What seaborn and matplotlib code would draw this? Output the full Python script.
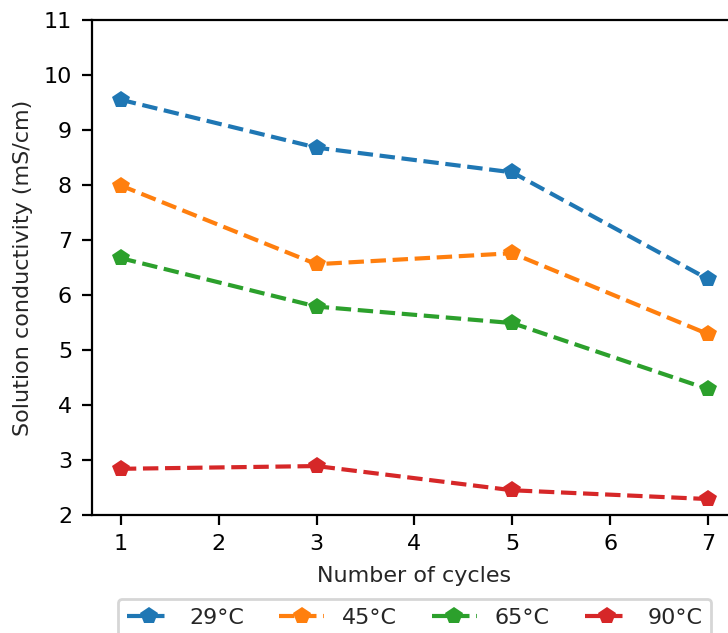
import matplotlib
matplotlib.use("Agg")
import matplotlib.pyplot as plt
import seaborn as sns
import pandas as pd

cycles = [1, 3, 5, 7]
temps = ["29°C", "45°C", "65°C", "90°C"]
cond_29 = [9.55, 8.68, 8.23, 6.29]
cond_45 = [7.99, 6.56, 6.76, 5.29]
cond_65 = [6.67, 5.79, 5.49, 4.29]
cond_90 = [2.84, 2.89, 2.45, 2.29]

rows = []
for t, vals in zip(temps, [cond_29, cond_45, cond_65, cond_90]):
    for c, v in zip(cycles, vals):
        rows.append({"cycle": c, "temp": t, "cond": v})
df = pd.DataFrame(rows)

sns.set_style("ticks")
plt.rcParams['font.family'] = ['DejaVu Sans']
plt.rcParams['font.size'] = 8

dpi = 200
fig = plt.figure(figsize=(728 / dpi, 633 / dpi), dpi=dpi)
ax = fig.add_axes([0.1257, 0.1864, 1.0128 - 0.1257, 0.9684 - 0.1864])

palette = ["#1f77b4", "#ff7f0e", "#2ca02c", "#d62728"]
sns.lineplot(data=df, x="cycle", y="cond", hue="temp", hue_order=temps,
             palette=palette, marker="p", markersize=6.5, linestyle="--",
             linewidth=1.5, markeredgewidth=0, ax=ax, legend=False)

ax.set_ylim(2, 11)
ax.set_xlim(0.7, 7.3)
ax.set_yticks(range(2, 12))
ax.set_xticks(range(1, 8))
ax.set_xlabel("Number of cycles")
ax.set_ylabel("Solution conductivity (mS/cm)")
for s in ax.spines.values():
    s.set_visible(True)
    s.set_color("black")
    s.set_linewidth(0.8)
ax.tick_params(colors="black", width=0.8, length=3.5, pad=3.5, direction="out")

handles = ax.lines[:4]
ax.legend(handles, temps, loc="upper center", bbox_to_anchor=(0.5, -0.147),
          ncol=4, frameon=True, columnspacing=1.6)

fig.savefig("out.png", dpi=dpi)
